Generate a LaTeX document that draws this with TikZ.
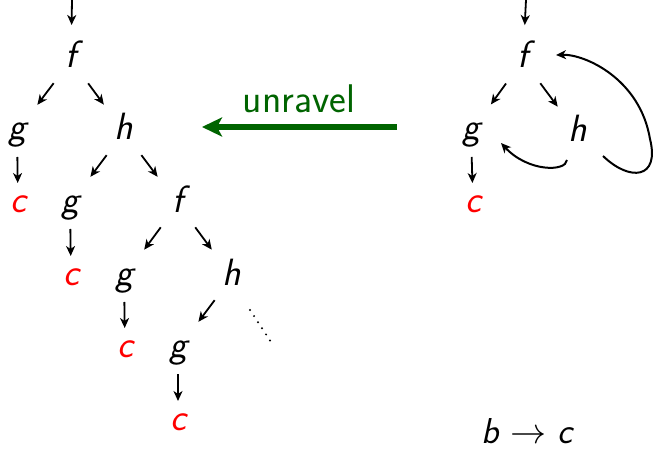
\RequirePackage{fix-cm}
\documentclass[tikz,border=0pt]{standalone}
\usetikzlibrary{arrows.meta}
\definecolor{dgreen}{RGB}{0,100,0}
\begin{document}
\begin{tikzpicture}[x=1pt,y=-1pt,
  lt/.style={inner sep=0pt,text height=22pt,text depth=6pt,font=\fontsize{38}{44}\selectfont\sffamily\slshape},
  rc/.style={lt,text=red},
  arr/.style={line width=1.8pt,-{Stealth[length=10pt,width=9pt,inset=3pt]}},
  dg/.style={arr,shorten <=29pt,shorten >=34pt},
  vt/.style={arr,shorten <=25pt,shorten >=21pt},
  tp/.style={arr,shorten >=35pt},
  cv/.style={arr,line width=2pt}]
\useasboundingbox (0,0) rectangle (653,449);
% left tree
\node[lt] (f1) at (71,60) {f};
\node[lt] (g1) at (17,132) {g};
\node[lt] (h1) at (124,132) {h};
\node[rc] (c1) at (18,204) {c};
\node[lt] (g2) at (70,204) {g};
\node[lt] (f2) at (178,204) {f};
\node[rc] (c2) at (71,277) {c};
\node[lt] (g3) at (124,277) {g};
\node[lt] (h2) at (232,277) {h};
\node[rc] (c3) at (125,349) {c};
\node[lt] (g4) at (178,349) {g};
\node[rc] (c4) at (178,422) {c};
\coordinate (t1) at (72,0);
\draw[tp] (t1) -- (f1.center);
\draw[dg] (f1.center) -- (g1.center);
\draw[dg] (f1.center) -- (h1.center);
\draw[vt] (g1.center) -- (c1.center);
\draw[dg] (h1.center) -- (g2.center);
\draw[dg] (h1.center) -- (f2.center);
\draw[vt] (g2.center) -- (c2.center);
\draw[dg] (f2.center) -- (g3.center);
\draw[dg] (f2.center) -- (h2.center);
\draw[vt] (g3.center) -- (c3.center);
\draw[dg] (h2.center) -- (g4.center);
\draw[vt] (g4.center) -- (c4.center);
\coordinate (d1) at ([shift={(18,33)}]h2.center);
\coordinate (d2) at ([shift={(41,68)}]h2.center);
\draw[line width=2.2pt,dash pattern=on 0pt off 7.3pt,line cap=round] (d1) -- (d2);
% unravel arrow
\coordinate (us) at (397,127);
\coordinate (ue) at (202,127);
\draw[dgreen,line width=6.5pt,-{Stealth[length=20pt,width=19pt,inset=5pt]}] (us) -- (ue);
\node[text=dgreen,font=\fontsize{40}{46}\selectfont\sffamily,anchor=base] (ul) at (299,113) {unravel};
% right graph
\node[lt] (rf) at (523,60) {f};
\node[lt] (rg) at (471,132) {g};
\node[lt] (rh) at (578,134) {h};
\node[rc] (rc) at (473,204) {c};
\coordinate (t2) at (526,0);
\draw[tp] (t2) -- (rf.center);
\draw[dg] (rf.center) -- (rg.center);
\draw[dg] (rf.center) -- (rh.center);
\draw[vt] (rg.center) -- (rc.center);
\draw[cv] ([shift={(-11,26)}]rh.center) .. controls ([shift={(-12,38)}]rh.center) and ([shift={(57,40)}]rg.center) .. ([shift={(30,11)}]rg.center);
\draw[cv] ([shift={(25,22)}]rh.center) .. controls ([shift={(52,48)}]rh.center) and ([shift={(82,45)}]rh.center) .. ([shift={(72,5)}]rh.center)
  .. controls ([shift={(62,-55)}]rh.center) and ([shift={(7,-80)}]rh.center) .. ([shift={(33,-5)}]rf.center);
% label
\node[inner sep=0pt,font=\fontsize{36}{42}\selectfont\sffamily\slshape,anchor=base] (bc) at (527,443) {b $\rightarrow$ c};
\end{tikzpicture}
\end{document}
